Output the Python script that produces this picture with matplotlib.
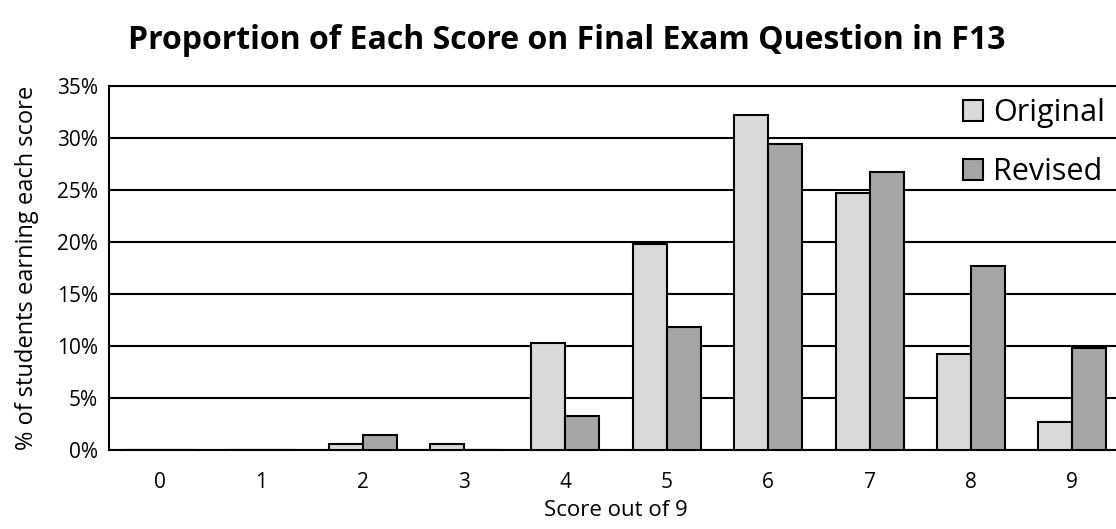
import matplotlib.pyplot as plt
import numpy as np

# data
scores = [0, 1, 2, 3, 4, 5, 6, 7, 8, 9]
original = [0, 0, 0.6, 0.6, 10.3, 19.8, 32.2, 24.7, 9.2, 2.7]
revised = [0, 0, 1.4, 0, 3.3, 11.8, 29.4, 26.7, 17.7, 9.8]
yticks = [0, 5, 10, 15, 20, 25, 30, 35]

plt.rcParams['font.family'] = ['Open Sans', 'DejaVu Sans']

fig = plt.figure(figsize=(11.16, 5.29), dpi=100)
ax = fig.add_axes([0.0977, 0.1493, 0.9086, 0.688])

x = np.arange(len(scores))
w = 0.335
ax.bar(x - w / 2, original, w, color="#D9D9D9", edgecolor="black", linewidth=1.5, label="Original", zorder=3)
ax.bar(x + w / 2, revised, w, color="#A6A6A6", edgecolor="black", linewidth=1.5, label="Revised", zorder=3)

ax.set_xlim(-0.5, 9.5)
ax.set_ylim(0, 35)
ax.set_yticks(yticks)
ax.set_yticklabels([f"{t}%" for t in yticks], fontsize=15)
ax.set_xticks(x)
ax.set_xticklabels([str(s) for s in scores], fontsize=15)
ax.tick_params(axis="y", length=0, pad=8)
ax.tick_params(axis="x", length=0, pad=16)
ax.yaxis.grid(True, color="black", linewidth=1.5, zorder=0)
ax.set_axisbelow(True)
for s in ["left", "bottom", "top"]:
    ax.spines[s].set_linewidth(1.5)
ax.spines["right"].set_visible(False)

ax.set_xlabel("Score out of 9", fontsize=16, labelpad=5)
ax.set_ylabel("% of students earning each score", fontsize=17, labelpad=13)

fig.text(0.508, 0.924, "Proportion of Each Score on Final Exam Question in F13",
         ha="center", va="center", fontsize=23, fontweight="bold")

fig.legend(loc="upper right", bbox_to_anchor=(1.004, 0.843), frameon=False, fontsize=22,
           borderpad=0, handlelength=0.65, handleheight=0.65, handletextpad=0.33, labelspacing=0.95)

plt.savefig("out.png", dpi=100)
